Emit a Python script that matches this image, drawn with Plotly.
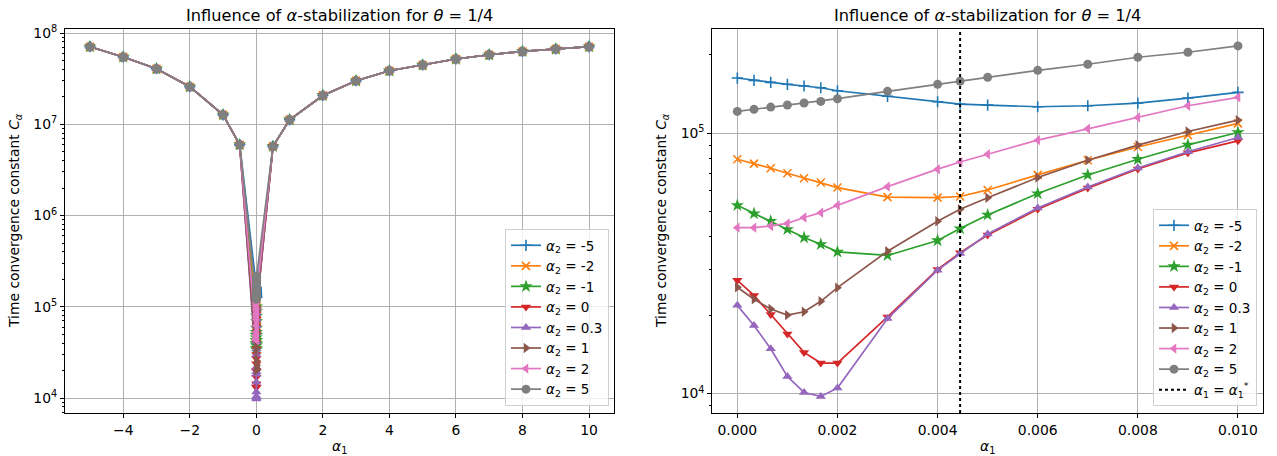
import plotly.graph_objects as go

# ---------------- data ----------------
# alpha_1 values of the zoomed (right) panel
alpha1_near = [0.0, 0.000333, 0.000667, 0.001, 0.001333, 0.001667, 0.002,
               0.003, 0.004, 0.00445, 0.005, 0.006, 0.007, 0.008, 0.009, 0.010]
ALPHA1_STAR = 0.00445

series_names = ["-5", "-2", "-1", "0", "0.3", "1", "2", "5"]

c_m5 = [1.628e5, 1.595e5, 1.567e5, 1.540e5, 1.517e5, 1.494e5, 1.455e5, 1.385e5,
        1.320e5, 1.293e5, 1.282e5, 1.263e5, 1.274e5, 1.305e5, 1.364e5, 1.434e5]
c_m2 = [7.94e4, 7.64e4, 7.33e4, 7.01e4, 6.71e4, 6.46e4, 6.18e4, 5.68e4,
        5.65e4, 5.71e4, 6.05e4, 6.91e4, 7.87e4, 8.85e4, 9.82e4, 1.090e5]
c_m1 = [5.28e4, 4.91e4, 4.59e4, 4.27e4, 3.97e4, 3.74e4, 3.50e4, 3.39e4,
        3.87e4, 4.30e4, 4.85e4, 5.86e4, 6.91e4, 7.94e4, 9.02e4, 1.006e5]
c_0 = [2.72e4, 2.38e4, 2.01e4, 1.693e4, 1.438e4, 1.309e4, 1.309e4, 1.968e4,
       2.995e4, 3.47e4, 4.06e4, 5.10e4, 6.15e4, 7.28e4, 8.40e4, 9.34e4]
c_03 = [2.18e4, 1.823e4, 1.486e4, 1.162e4, 1.009e4, 9.74e3, 1.049e4, 1.939e4,
        2.976e4, 3.45e4, 4.10e4, 5.16e4, 6.21e4, 7.35e4, 8.48e4, 9.62e4]
c_1 = [2.56e4, 2.30e4, 2.11e4, 2.00e4, 2.06e4, 2.26e4, 2.55e4, 3.52e4,
       4.59e4, 5.10e4, 5.65e4, 6.75e4, 7.87e4, 8.99e4, 1.015e5, 1.122e5]
c_2 = [4.335e4, 4.335e4, 4.40e4, 4.50e4, 4.74e4, 4.95e4, 5.28e4, 6.23e4,
       7.27e4, 7.75e4, 8.30e4, 9.40e4, 1.039e5, 1.149e5, 1.274e5, 1.373e5]
c_5 = [1.212e5, 1.234e5, 1.259e5, 1.282e5, 1.305e5, 1.324e5, 1.356e5, 1.447e5,
       1.540e5, 1.582e5, 1.638e5, 1.743e5, 1.839e5, 1.957e5, 2.045e5, 2.163e5]

# far-away alpha_1 values of the full (left) panel (curves coincide there)
alpha1_far_neg = [-5, -4, -3, -2, -1, -0.5]
c_far_neg = [7.08e7, 5.46e7, 4.06e7, 2.58e7, 1.27e7, 5.97e6]
alpha1_far_pos = [0.5, 1, 2, 3, 4, 5, 6, 7, 8, 9, 10]
c_far_pos = [5.72e6, 1.12e7, 2.07e7, 3.00e7, 3.86e7, 4.46e7, 5.19e7, 5.78e7,
             6.28e7, 6.68e7, 7.08e7]

series_values = [c_m5, c_m2, c_m1, c_0, c_03, c_1, c_2, c_5]

# ---------------- style ----------------
colors = ["#1f77b4", "#ff7f0e", "#2ca02c", "#d62728", "#9467bd", "#8c564b", "#e377c2", "#7f7f7f"]
symbols = ["cross-thin", "x-thin", "star", "triangle-down", "triangle-up",
           "triangle-right", "triangle-left", "circle"]
sizes = [8, 8, 10, 9, 9, 9, 9, 9]
FONT = "DejaVu Sans"
TICK = 13.9
LEG = 13.5
TITLE = 16.2

W, H = 1277, 456
ML, MR, MT, MB = 65, 14, 29, 43
PW = W - ML - MR
PH = H - MT - MB

def px_x(p):
    return (p - ML) / PW

def px_y(p):
    return (H - MB - p) / PH

fig = go.Figure()

for i, name in enumerate(series_names):
    label = "<i>α</i><sub>2</sub> = " + name
    mk = dict(symbol=symbols[i], size=sizes[i], color=colors[i],
              line=dict(width=1.6 if "thin" in symbols[i] else 0, color=colors[i]))
    x_full = alpha1_far_neg + alpha1_near + alpha1_far_pos
    y_full = c_far_neg + series_values[i] + c_far_pos
    fig.add_trace(go.Scatter(x=x_full, y=y_full, mode="lines+markers", name=label,
                             line=dict(color=colors[i], width=1.7), marker=mk,
                             xaxis="x", yaxis="y", legend="legend"))
    fig.add_trace(go.Scatter(x=alpha1_near, y=series_values[i], mode="lines+markers", name=label,
                             line=dict(color=colors[i], width=1.7), marker=mk,
                             xaxis="x2", yaxis="y2", legend="legend2"))

Y2_RANGE = [3.925, 5.40]
fig.add_trace(go.Scatter(x=[ALPHA1_STAR, ALPHA1_STAR], y=[10 ** Y2_RANGE[0], 10 ** Y2_RANGE[1]],
                         mode="lines", name="<i>α</i><sub>1</sub> = <i>α</i><sub>1</sub><sup>*</sup>",
                         line=dict(color="black", width=2, dash="dot"),
                         xaxis="x2", yaxis="y2", legend="legend2"))

axis_common = dict(showline=True, linecolor="black", linewidth=1, mirror=True,
                   ticks="outside", ticklen=4, tickcolor="black", tickwidth=1,
                   showgrid=True, gridcolor="#b0b0b0", gridwidth=0.9, zeroline=False,
                   tickfont=dict(family=FONT, size=TICK, color="black"))

def minor_vals(lo, hi):
    out = []
    for e in range(lo, hi):
        for m in range(2, 10):
            out.append(m * 10 ** e)
    return out

legend_common = dict(xanchor="right", yanchor="bottom", itemwidth=30,
                     bgcolor="rgba(255,255,255,0.8)", bordercolor="#d0d0d0", borderwidth=1,
                     font=dict(family=FONT, size=LEG, color="black"))

fig.update_layout(
    width=W, height=H,
    margin=dict(l=ML, r=MR, t=MT, b=MB),
    paper_bgcolor="white", plot_bgcolor="white",
    font=dict(family=FONT, size=TICK, color="black"),
    xaxis=dict(domain=[0, px_x(614)], range=[-5.75, 10.75], tickvals=[-4, -2, 0, 2, 4, 6, 8, 10],
               anchor="y", **axis_common),
    yaxis=dict(type="log", range=[3.836, 8.044], domain=[0, 1], anchor="x",
               tickvals=[1e4, 1e5, 1e6, 1e7, 1e8],
               ticktext=["10<sup>4</sup>", "10<sup>5</sup>", "10<sup>6</sup>", "10<sup>7</sup>", "10<sup>8</sup>"],
               minor=dict(tickvals=minor_vals(3, 8), ticks="outside", ticklen=2, tickcolor="black", showgrid=False),
               **axis_common),
    xaxis2=dict(domain=[px_x(712.3), 1], range=[-0.0005, 0.0105],
                tickvals=[0, 0.002, 0.004, 0.006, 0.008, 0.010],
                ticktext=["0.000", "0.002", "0.004", "0.006", "0.008", "0.010"],
                anchor="y2", **axis_common),
    yaxis2=dict(type="log", range=Y2_RANGE, domain=[0, 1], anchor="x2",
                tickvals=[1e4, 1e5], ticktext=["10<sup>4</sup>", "10<sup>5</sup>"],
                minor=dict(tickvals=minor_vals(3, 6), ticks="outside", ticklen=2, tickcolor="black", showgrid=False),
                **axis_common),
    legend=dict(x=px_x(609), y=px_y(406), **legend_common),
    legend2=dict(x=px_x(1257), y=px_y(406), **legend_common),
)

title = "Influence of <i>α</i>-stabilization for <i>θ</i> = 1/4"
ylab = "Time convergence constant <i>C</i><sub><i>α</i></sub>"
ann = [
    dict(text=title, x=(0 + px_x(614)) / 2, y=px_y(15), font=dict(size=TITLE)),
    dict(text=title, x=(px_x(712.3) + 1) / 2, y=px_y(15), font=dict(size=TITLE)),
    dict(text="<i>α</i><sub>1</sub>", x=(0 + px_x(614)) / 2, y=px_y(447)),
    dict(text="<i>α</i><sub>1</sub>", x=(px_x(712.3) + 1) / 2, y=px_y(447)),
    dict(text=ylab, x=px_x(15), y=0.5, textangle=-90),
    dict(text=ylab, x=px_x(662), y=0.5, textangle=-90),
]
for a in ann:
    a.update(xref="paper", yref="paper", showarrow=False, xanchor="center", yanchor="middle")
    a.setdefault("font", {})
    a["font"].setdefault("size", TICK)
    a["font"].update(family=FONT, color="black")
fig.update_layout(annotations=ann)

fig.write_html("out.html")
